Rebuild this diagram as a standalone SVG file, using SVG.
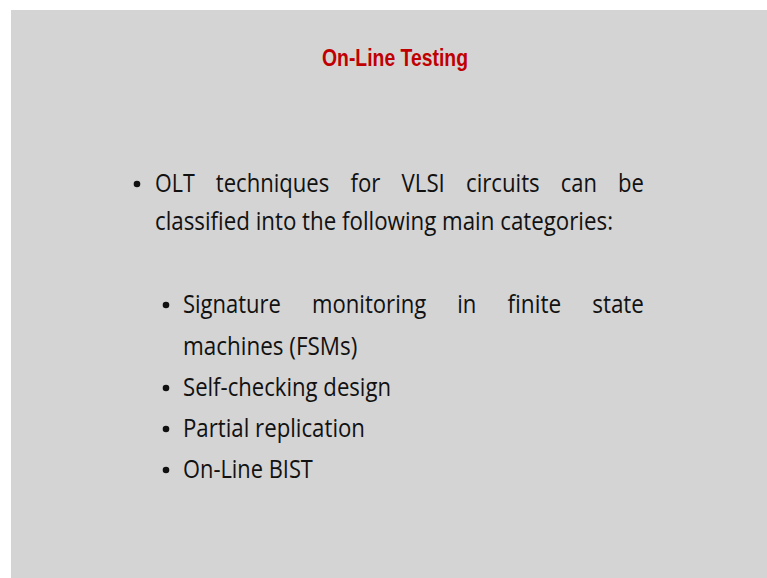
<svg xmlns="http://www.w3.org/2000/svg" width="767" height="578" viewBox="0 0 767 578">
<style>
.t{font-family:"Open Sans","Noto Sans","Liberation Sans",sans-serif;font-size:26px;fill:#111}
.ttl{font-family:"Liberation Sans",Arial,sans-serif;font-size:24px;font-weight:bold;fill:#c00000}
.b{fill:#111}
</style>
<rect x="0" y="0" width="767" height="578" fill="#ffffff"/>
<rect x="11" y="10" width="756" height="568" fill="#d4d4d4"/>
<g id="title">
<text class="ttl" x="322" y="66" textLength="146" lengthAdjust="spacingAndGlyphs">On-Line Testing</text>
</g>
<g id="main-bullet">
<circle class="b" cx="137" cy="184" r="3.3"/>
<text class="t" x="155" y="192" textLength="39.7" lengthAdjust="spacingAndGlyphs">OLT</text>
<text class="t" x="215.8" y="192" textLength="113.5" lengthAdjust="spacingAndGlyphs">techniques</text>
<text class="t" x="350.5" y="192" textLength="29.9" lengthAdjust="spacingAndGlyphs">for</text>
<text class="t" x="401.5" y="192" textLength="43.3" lengthAdjust="spacingAndGlyphs">VLSI</text>
<text class="t" x="466" y="192" textLength="73.7" lengthAdjust="spacingAndGlyphs">circuits</text>
<text class="t" x="560.8" y="192" textLength="36.1" lengthAdjust="spacingAndGlyphs">can</text>
<text class="t" x="618.1" y="192" textLength="25.9" lengthAdjust="spacingAndGlyphs">be</text>
<text class="t" x="155" y="230" textLength="458" lengthAdjust="spacingAndGlyphs">classified into the following main categories:</text>
</g>
<g id="sub1">
<circle class="b" cx="166" cy="305" r="3.3"/>
<text class="t" x="183" y="313" textLength="97.9" lengthAdjust="spacingAndGlyphs">Signature</text>
<text class="t" x="312" y="313" textLength="114.3" lengthAdjust="spacingAndGlyphs">monitoring</text>
<text class="t" x="457.3" y="313" textLength="19.1" lengthAdjust="spacingAndGlyphs">in</text>
<text class="t" x="507.5" y="313" textLength="53.7" lengthAdjust="spacingAndGlyphs">finite</text>
<text class="t" x="592.2" y="313" textLength="51.8" lengthAdjust="spacingAndGlyphs">state</text>
<text class="t" x="183" y="355" textLength="174.3" lengthAdjust="spacingAndGlyphs">machines (FSMs)</text>
</g>
<g id="sub2">
<circle class="b" cx="166" cy="388" r="3.3"/>
<text class="t" x="183" y="396" textLength="208" lengthAdjust="spacingAndGlyphs">Self-checking design</text>
</g>
<g id="sub3">
<circle class="b" cx="166" cy="429" r="3.3"/>
<text class="t" x="183" y="437" textLength="182" lengthAdjust="spacingAndGlyphs">Partial replication</text>
</g>
<g id="sub4">
<circle class="b" cx="166" cy="470" r="3.3"/>
<text class="t" x="183" y="478" textLength="129.9" lengthAdjust="spacingAndGlyphs">On-Line BIST</text>
</g>
</svg>
